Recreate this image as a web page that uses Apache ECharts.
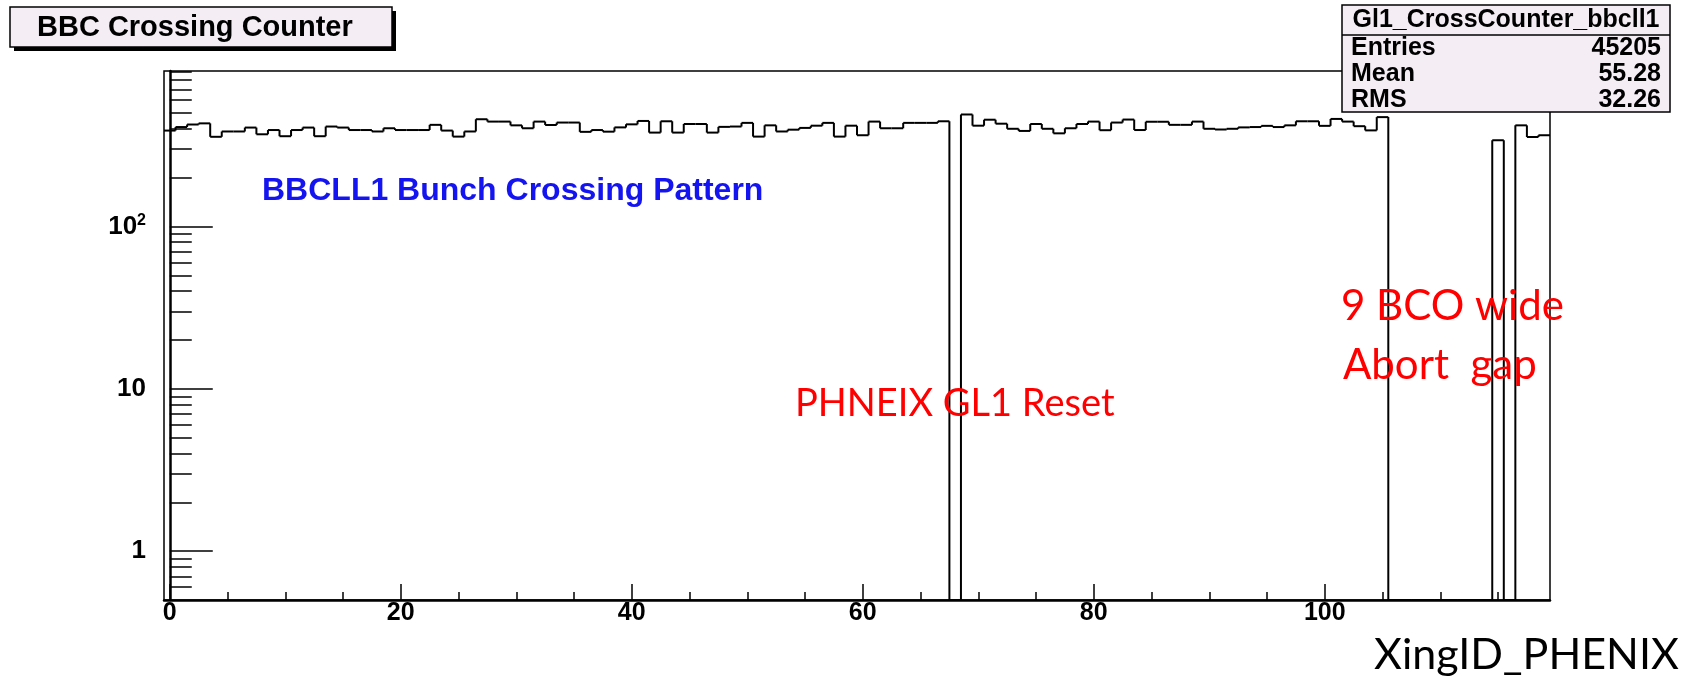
<!DOCTYPE html>
<html>
<head>
<meta charset="utf-8">
<script src="https://cdn.jsdelivr.net/npm/echarts@6/dist/echarts.min.js"></script>
<style>
html,body{margin:0;padding:0;background:#fff;}
#chart{width:1692px;height:677px;}
</style>
</head>
<body>
<div id="chart"></div>
<script>
// ---- data ----
const xingIds = [];
for (let i = 0; i < 120; i++) xingIds.push(i);
const counts = [
  390, 410, 425, 432, 357, 385, 385, 407, 370, 393,
  360, 393, 407, 360, 413, 407, 393, 393, 385, 403,
  393, 393, 393, 423, 390, 358, 385, 458, 443, 443,
  420, 403, 443, 422, 437, 437, 383, 393, 384, 408,
  426, 447, 379, 445, 379, 428, 428, 379, 411, 413,
  435, 358, 420, 385, 395, 405, 418, 435, 358, 418,
  365, 443, 403, 403, 435, 435, 435, 445, 0, 490,
  418, 455, 430, 400, 388, 428, 400, 375, 403, 428,
  443, 392, 437, 456, 393, 442, 442, 423, 423, 443,
  400, 396, 400, 408, 410, 417, 410, 420, 445, 445,
  417, 460, 443, 415, 391, 472, 0, 0, 0, 0,
  0, 0, 0, 0, 0, 340, 0, 420, 356, 365
];
const xTickMajor = [0, 20, 40, 60, 80, 100];
const xTickMinor = [0, 5, 10, 15, 20, 25, 30, 35, 40, 45, 50, 55, 60, 65, 70, 75, 80, 85, 90, 95, 100, 105, 110, 115];
const yTickMajor = [1, 10, 100];
const yTickMinor = [0.6, 0.7, 0.8, 0.9, 2, 3, 4, 5, 6, 7, 8, 9, 20, 30, 40, 50, 60, 70, 80, 90, 200, 300, 400, 500, 600, 700, 800, 900];
const xRange = [-0.5, 119.5];
const yRange = [0.5, 908];
const titleText = 'BBC Crossing Counter';
const statsTitle = 'Gl1_CrossCounter_bbcll1';
const statsNames = ['Entries', 'Mean', 'RMS'];
const statsValues = ['45205', '55.28', '32.26'];
const noteBlue = 'BBCLL1 Bunch Crossing Pattern';
const noteReset = 'PHNEIX GL1 Reset';
const noteAbort = ['9 BCO wide', 'Abort  gap'];
const xTitle = 'XingID_PHENIX';

// ---- chart ----
const chart = echarts.init(document.getElementById('chart'));
const histData = counts.map((v, i) => [xingIds[i], v, i > 0 ? counts[i - 1] : null]);
const AX = 'Liberation Sans, Arial, sans-serif';
const NOTE = 'Lato, Open Sans, sans-serif';

function yClamp(v) { return Math.max(v, yRange[0]); }

const option = {
  animation: false,
  backgroundColor: '#fff',
  grid: {
    left: 164, right: 142, top: 71, bottom: 77,
    show: true, borderColor: '#000', borderWidth: 1.5,
    containLabel: false, outerBoundsMode: 'none'
  },
  xAxis: [
    {
      type: 'value', min: xRange[0], max: xRange[1], position: 'bottom',
      axisLine: { show: true, lineStyle: { color: '#000', width: 2.5 } },
      axisTick: { show: true, inside: true, length: 16, customValues: xTickMajor, lineStyle: { color: '#000', width: 1.5 } },
      axisLabel: { show: true, customValues: xTickMajor, color: '#000', fontFamily: AX, fontWeight: 'bold', fontSize: 25, margin: 1 },
      splitLine: { show: false }
    },
    {
      type: 'value', min: xRange[0], max: xRange[1], position: 'bottom',
      axisLine: { show: false },
      axisTick: { show: true, inside: true, length: 8, customValues: xTickMinor, lineStyle: { color: '#000', width: 1.5 } },
      axisLabel: { show: false },
      splitLine: { show: false }
    }
  ],
  yAxis: [
    {
      type: 'log', logBase: 10, min: yRange[0], max: yRange[1], position: 'left',
      axisLine: { show: true, lineStyle: { color: '#000', width: 2.5 } },
      axisTick: { show: true, inside: true, length: 43, customValues: yTickMajor, lineStyle: { color: '#000', width: 1.5 } },
      axisLabel: {
        show: true, customValues: yTickMajor, color: '#000', fontFamily: AX, fontWeight: 'bold', fontSize: 26, margin: 18,
        formatter: function (v) {
          const r = Math.round(v);
          return r === 100 ? '10{sup|2}' : String(r);
        },
        rich: { sup: { fontSize: 16, fontWeight: 'bold', fontFamily: AX, color: '#000', padding: [0, 0, 12, 0] } }
      },
      splitLine: { show: false }
    },
    {
      type: 'log', logBase: 10, min: yRange[0], max: yRange[1], position: 'left',
      axisLine: { show: false },
      axisTick: { show: true, inside: true, length: 22, customValues: yTickMinor, lineStyle: { color: '#000', width: 1.5 } },
      axisLabel: { show: false },
      splitLine: { show: false }
    }
  ],
  series: [{
    type: 'custom',
    xAxisIndex: 0, yAxisIndex: 0,
    clip: true,
    data: histData,
    encode: { x: 0, y: 1 },
    renderItem: function (params, api) {
      const i = api.value(0);
      const v = api.value(1);
      const p = histData[params.dataIndex][2];
      const a = api.coord([i - 0.5, yClamp(v)]);
      const b = api.coord([i + 0.5, yClamp(v)]);
      const children = [{
        type: 'line', shape: { x1: a[0], y1: a[1], x2: b[0], y2: b[1] },
        style: { stroke: '#000', lineWidth: 2 }
      }];
      if (p !== null) {
        const c = api.coord([i - 0.5, yClamp(p)]);
        children.push({
          type: 'line', shape: { x1: a[0], y1: c[1], x2: a[0], y2: a[1] },
          style: { stroke: '#000', lineWidth: 2 }
        });
      }
      return { type: 'group', children: children };
    }
  }],
  graphic: [
    // title box
    { type: 'rect', shape: { x: 14, y: 11, width: 382, height: 40 }, style: { fill: '#000' }, z: 10 },
    { type: 'rect', shape: { x: 10, y: 7, width: 382, height: 40 }, style: { fill: '#f4eef4', stroke: '#000', lineWidth: 1.5 }, z: 11 },
    { type: 'text', x: 37, y: 28, style: { text: titleText, font: 'bold 29px ' + AX, fill: '#000', textVerticalAlign: 'middle' }, z: 12 },
    // stats box
    { type: 'rect', shape: { x: 1342, y: 5, width: 328, height: 107 }, style: { fill: '#f4eef4', stroke: '#000', lineWidth: 1.5 }, z: 11 },
    { type: 'line', shape: { x1: 1342, y1: 35, x2: 1670, y2: 35 }, style: { stroke: '#000', lineWidth: 1.5 }, z: 12 },
    { type: 'text', x: 1506, y: 20, style: { text: statsTitle, font: 'bold 25px ' + AX, fill: '#000', textAlign: 'center', textVerticalAlign: 'middle' }, z: 12 },
    { type: 'text', x: 1351, y: 48, style: { text: statsNames[0], font: 'bold 25px ' + AX, fill: '#000', textVerticalAlign: 'middle' }, z: 12 },
    { type: 'text', x: 1351, y: 74, style: { text: statsNames[1], font: 'bold 25px ' + AX, fill: '#000', textVerticalAlign: 'middle' }, z: 12 },
    { type: 'text', x: 1351, y: 100, style: { text: statsNames[2], font: 'bold 25px ' + AX, fill: '#000', textVerticalAlign: 'middle' }, z: 12 },
    { type: 'text', x: 1661, y: 48, style: { text: statsValues[0], font: 'bold 25px ' + AX, fill: '#000', textAlign: 'right', textVerticalAlign: 'middle' }, z: 12 },
    { type: 'text', x: 1661, y: 74, style: { text: statsValues[1], font: 'bold 25px ' + AX, fill: '#000', textAlign: 'right', textVerticalAlign: 'middle' }, z: 12 },
    { type: 'text', x: 1661, y: 100, style: { text: statsValues[2], font: 'bold 25px ' + AX, fill: '#000', textAlign: 'right', textVerticalAlign: 'middle' }, z: 12 },
    // annotations
    { type: 'text', x: 262, y: 191, style: { text: noteBlue, font: 'bold 32px ' + AX, fill: '#1414f0', textVerticalAlign: 'middle' }, z: 12 },
    { type: 'text', x: 795, y: 404, style: { text: noteReset, font: '38px ' + NOTE, fill: '#ff0000', textVerticalAlign: 'middle' }, z: 12 },
    { type: 'text', x: 1341, y: 306, style: { text: noteAbort[0], font: '42px ' + NOTE, fill: '#ff0000', textVerticalAlign: 'middle' }, z: 12 },
    { type: 'text', x: 1343, y: 365, style: { text: noteAbort[1], font: '42px ' + NOTE, fill: '#ff0000', textVerticalAlign: 'middle' }, z: 12 },
    { type: 'text', x: 1374, y: 655, style: { text: xTitle, font: '43px ' + NOTE, fill: '#000', textVerticalAlign: 'middle' }, z: 12 }
  ]
};
chart.setOption(option);
</script>
</body>
</html>
